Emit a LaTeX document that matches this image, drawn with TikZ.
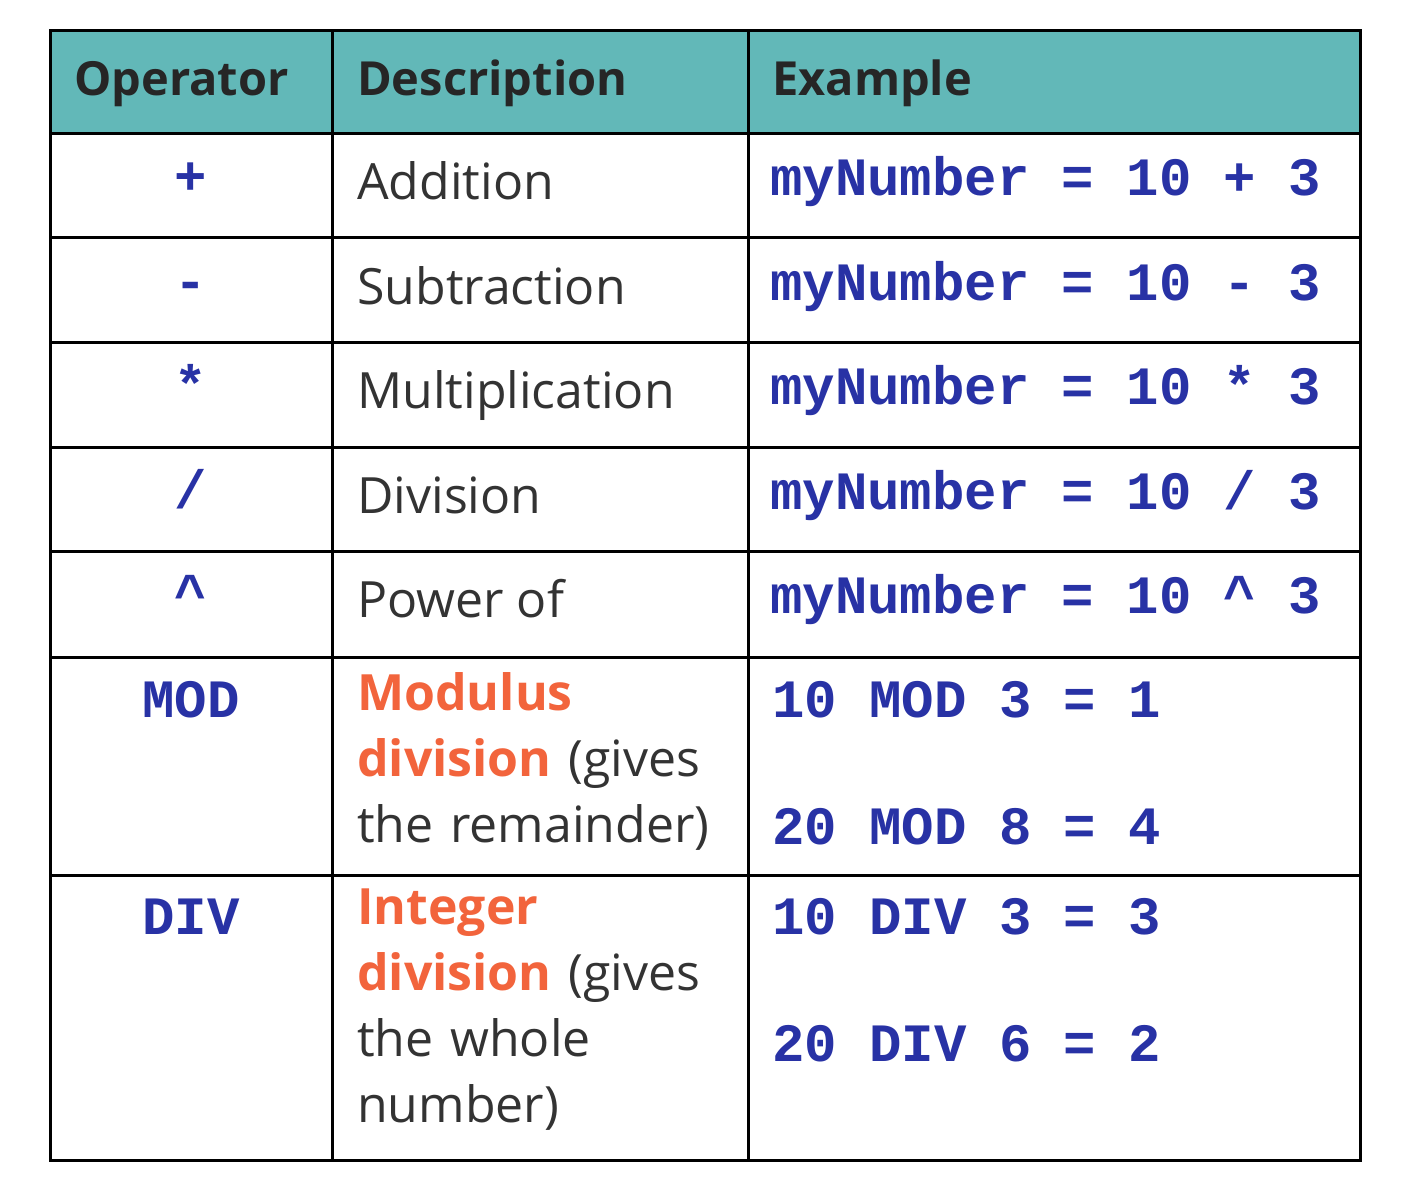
\documentclass[tikz,border=0pt]{standalone}
\usepackage{fontspec}
\setmainfont{Open Sans}
\setmonofont{Liberation Mono}
\definecolor{headteal}{RGB}{98,184,184}
\definecolor{codeblue}{RGB}{40,50,165}
\definecolor{keyorange}{RGB}{242,100,60}
\tikzset{
  desc/.style={anchor=base west,inner sep=0pt,font=\fontsize{50}{66}\selectfont,text=black!80},
  head/.style={anchor=base west,inner sep=0pt,font=\fontsize{47}{56}\bfseries\selectfont,text=black!85},
  code/.style={anchor=base west,inner sep=0pt,font=\fontsize{54}{60}\ttfamily\bfseries\selectfont,text=codeblue},
  op/.style={anchor=base,inner sep=0pt,font=\fontsize{54}{60}\ttfamily\bfseries\selectfont,text=codeblue}
}
\newcommand{\hl}[1]{\textcolor{keyorange}{\bfseries #1}}
\newcommand{\divsign}{\symbol{47}}
\begin{document}
\begin{tikzpicture}[x=1pt,y=-1pt]
  \useasboundingbox (0,0) rectangle (1415,1200);
  \fill[headteal] (50,30) rectangle (1360,133);
  % grid
  \draw[line width=3pt] (50,30) rectangle (1360,1160);
  \foreach \y in {133,237,342,447,551,657,875}
    \draw[line width=3pt] (50,\y) -- (1360,\y);
  \foreach \x in {332,748}
    \draw[line width=3pt] (\x,30) -- (\x,1160);
  % header
  \node[head] (hop) at (74,95) {Operator};
  \node[head] (hdesc) at (357,95) {Description};
  \node[head] (hex) at (772,95) {Example};
  % simple rows
  \foreach \o/\d [count=\i] in {+/Addition,-/Subtraction,*/Multiplication,\divsign/Division,\textasciicircum/Power of} {
    \pgfmathsetmacro{\yb}{95+104.5*\i}
    \node[op] (op\i) at (191,\yb-5) {\o};
    \node[desc] (desc\i) at (357,\yb) {\d};
    \node[code] (ex\i) at (770,\yb-4) {myNumber = 10 \o{} 3};
  }
  % MOD row
  \node[op] (opmod) at (191,717) {MOD};
  \node[desc,anchor=north west,align=left,text width=370pt] (descmod) at (357,672)
    {\hl{Modulus}\\\hl{division} (gives\\the remainder)};
  \node[code] (exmod1) at (772,717) {10 MOD 3 = 1};
  \node[code] (exmod2) at (772,844) {20 MOD 8 = 4};
  % DIV row
  \node[op] (opdiv) at (191,934) {DIV};
  \node[desc,anchor=north west,align=left,text width=370pt] (descdiv) at (357,889)
    {\hl{Integer}\\\hl{division} (gives\\the whole\\number)};
  \node[code] (exdiv1) at (772,934) {10 DIV 3 = 3};
  \node[code] (exdiv2) at (772,1061) {20 DIV 6 = 2};
\end{tikzpicture}
\end{document}
